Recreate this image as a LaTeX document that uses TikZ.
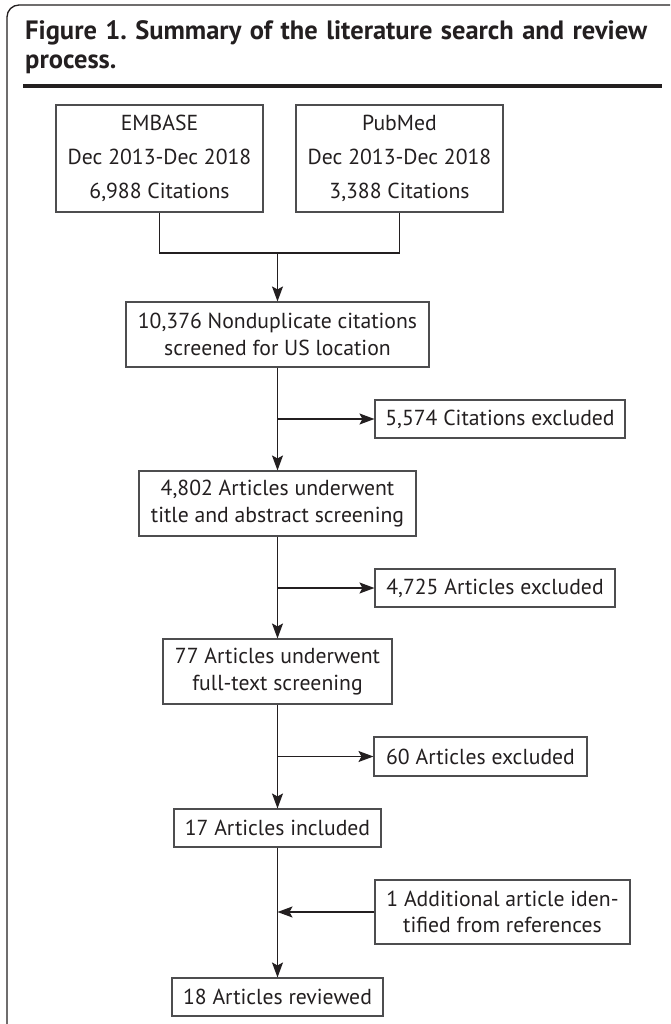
\documentclass[tikz,border=0pt]{standalone}
\usepackage{fontspec}
\setmainfont{PT Sans}
\usetikzlibrary{arrows.meta}
\definecolor{ink}{HTML}{231F20}
\definecolor{boxline}{HTML}{4D4D4F}
\begin{document}
\frenchspacing
\begin{tikzpicture}[x=1pt,y=-1pt,
  box/.style={draw=boxline, line width=1.1pt, rectangle, inner sep=0pt, align=center, text=ink, font=\fontsize{21.7}{26.5}\selectfont},
  tallbox/.style={box, font=\fontsize{21.7}{34}\selectfont},
  arr/.style={draw=ink, line width=1.4pt, -{Stealth[length=15pt,width=11pt,inset=3pt]}},
  conn/.style={draw=ink, line width=1.4pt},
  titletext/.style={anchor=base west, inner sep=0pt, text=ink, font=\fontsize{26.5}{30}\selectfont\bfseries}]
\clip (0,0) rectangle (670,1024);
\fill[white] (0,0) rectangle (670,1024);
% frame
\draw[ink, line width=1.3pt, rounded corners=12pt] (700,5) -- (7,5) -- (7,1060);
% title
\node[titletext] (title1) at (25,40) {\makebox[622pt][s]{Figure 1. Summary of the literature search and review}};
\node[titletext] (title2) at (25,69) {process.};
\draw[ink, line width=4pt] (23,86.5) -- (662,86.5);
% boxes
\node[tallbox, minimum width=207pt, minimum height=107pt] (embase) at (159.5,158.5) {EMBASE\\Dec 2013-Dec 2018\\6,988 Citations};
\node[tallbox, minimum width=207pt, minimum height=107pt] (pubmed) at (399.5,158.5) {PubMed\\Dec 2013-Dec 2018\\3,388 Citations};
\node[box, minimum width=303pt, minimum height=65pt] (n1) at (277.5,334.5) {10,376 Nondup\-licate citations\\screened for US location};
\node[box, minimum width=250pt, minimum height=38pt] (ex1) at (500,419) {5,574 Citations excluded};
\node[box, minimum width=277pt, minimum height=65pt] (n2) at (277.5,503.5) {4,802 Articles underwent\\title and abstract screening};
\node[box, minimum width=240pt, minimum height=38pt] (ex2) at (495,588) {4,725 Articles excluded};
\node[box, minimum width=229pt, minimum height=65pt] (n3) at (277.5,671.5) {77 Articles underwent\\full-text screening};
\node[box, minimum width=213pt, minimum height=39pt] (ex3) at (480.5,756.5) {60 Articles excluded};
\node[box, minimum width=207pt, minimum height=38pt] (n4) at (277.5,828) {17 Articles included};
\node[box, minimum width=255pt, minimum height=64pt] (add) at (502.5,912) {1 Additional article iden-\\tified from references};
\node[box, minimum width=211pt, minimum height=38pt] (n5) at (277.5,997) {18 Articles reviewed};
% connectors
\coordinate (j1) at (277.5,253);
\draw[conn] (embase.south) |- (j1) -| (pubmed.south);
\draw[arr] (j1) -- (n1.north);
\draw[arr] (n1.south) -- (n2.north);
\draw[arr] (n1.south |- ex1.west) -- (ex1.west);
\draw[arr] (n2.south) -- (n3.north);
\draw[arr] (n2.south |- ex2.west) -- (ex2.west);
\draw[arr] (n3.south) -- (n4.north);
\draw[arr] (n3.south |- ex3.west) -- (ex3.west);
\draw[arr] (n4.south) -- (n5.north);
\draw[arr] (add.west) -- (n4.south |- add.west);
\end{tikzpicture}
\end{document}
